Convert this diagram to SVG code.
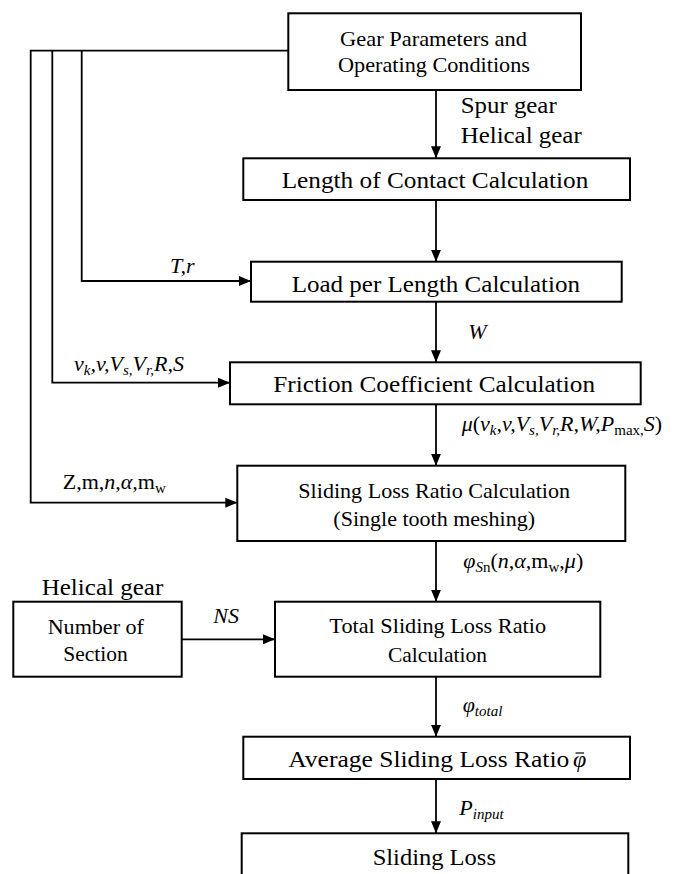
<svg xmlns="http://www.w3.org/2000/svg" width="699" height="874" viewBox="0 0 699 874" font-family="'Liberation Serif', 'DejaVu Serif', 'Times New Roman', serif">
<style>
text{font-family:'Liberation Serif','DejaVu Serif','Times New Roman',serif;fill:#000}
.box{fill:#fff;stroke:#000;stroke-width:2}
.b22{font-size:22px;text-anchor:middle}
.b24{font-size:24px;text-anchor:middle}
.lbl{font-size:24px}
.it{font-style:italic;font-size:22px}
.up{font-style:normal}
.sub{font-size:15px}
.ln{fill:none;stroke:#000;stroke-width:1.8}
</style>
<defs>
<marker id="ah" markerUnits="userSpaceOnUse" markerWidth="12" markerHeight="10" refX="12" refY="5" orient="auto">
<path d="M0,0 L12,5 L0,10 z" fill="#000"/>
</marker>
</defs>

<g id="connectors">
<path class="ln" d="M288.3,50.7 H30.7 V502.7 H237.3" marker-end="url(#ah)"/>
<path class="ln" d="M52.3,50.7 V382.7 H230" marker-end="url(#ah)"/>
<path class="ln" d="M81.7,50.7 V281 H251" marker-end="url(#ah)"/>
<path class="ln" d="M436,90 V158.3" marker-end="url(#ah)"/>
<path class="ln" d="M436,200 V261.7" marker-end="url(#ah)"/>
<path class="ln" d="M436,301.7 V362.3" marker-end="url(#ah)"/>
<path class="ln" d="M436,404.3 V465.7" marker-end="url(#ah)"/>
<path class="ln" d="M436,541 V601.7" marker-end="url(#ah)"/>
<path class="ln" d="M436,676.7 V736.7" marker-end="url(#ah)"/>
<path class="ln" d="M436,779 V833.3" marker-end="url(#ah)"/>
<path class="ln" d="M181.7,639.3 H275" marker-end="url(#ah)"/>
</g>

<g id="node-gear-parameters">
<rect class="box" x="288.3" y="13.3" width="292.7" height="76.7"/>
<text class="b22" x="433.5" y="45.7" textLength="187" lengthAdjust="spacingAndGlyphs">Gear Parameters  and</text>
<text class="b22" x="434" y="71.7" textLength="192" lengthAdjust="spacingAndGlyphs">Operating Conditions</text>
</g>

<g id="node-length-of-contact">
<rect class="box" x="243.3" y="158.3" width="386.7" height="41.7"/>
<text class="b24" x="435" y="188.3" textLength="306.6" lengthAdjust="spacingAndGlyphs">Length of Contact Calculation</text>
</g>

<g id="node-load-per-length">
<rect class="box" x="251" y="261.7" width="370.7" height="40"/>
<text class="b24" x="435.8" y="291.7" textLength="288.3" lengthAdjust="spacingAndGlyphs">Load per Length Calculation</text>
</g>

<g id="node-friction">
<rect class="box" x="230" y="362.3" width="410.7" height="42"/>
<text class="b24" x="434.2" y="392.3" textLength="321.7" lengthAdjust="spacingAndGlyphs">Friction Coefficient Calculation</text>
</g>

<g id="node-sliding-ratio">
<rect class="box" x="237.3" y="465.7" width="388" height="75.3"/>
<text class="b22" x="434.2" y="497.7" textLength="271.7" lengthAdjust="spacingAndGlyphs">Sliding Loss Ratio Calculation</text>
<text class="b22" x="434.2" y="526" textLength="201.7" lengthAdjust="spacingAndGlyphs">(Single tooth meshing)</text>
</g>

<g id="node-number-of-section">
<rect class="box" x="13.3" y="601.7" width="168.4" height="75"/>
<text class="b22" x="95.8" y="634" textLength="96.3" lengthAdjust="spacingAndGlyphs">Number of</text>
<text class="b22" x="95.5" y="660.7" textLength="64.4" lengthAdjust="spacingAndGlyphs">Section</text>
</g>

<g id="node-total-sliding">
<rect class="box" x="275" y="601.7" width="325.3" height="75"/>
<text class="b22" x="437.7" y="633.3" textLength="216.7" lengthAdjust="spacingAndGlyphs">Total Sliding Loss Ratio</text>
<text class="b22" x="437.4" y="661.7" textLength="99" lengthAdjust="spacingAndGlyphs">Calculation</text>
</g>

<g id="node-average">
<rect class="box" x="243.3" y="736.7" width="386.7" height="42.3"/>
<text class="lbl" x="288.3" y="767.3" textLength="281" lengthAdjust="spacingAndGlyphs">Average Sliding  Loss Ratio</text>
<text class="lbl" x="573" y="767.3" font-style="italic" font-size="22">φ</text>
<line x1="575.5" y1="753" x2="584" y2="753" stroke="#000" stroke-width="1.2"/>
</g>

<g id="node-sliding-loss">
<rect class="box" x="241.7" y="833.3" width="386.6" height="50"/>
<text class="b24" x="434.3" y="865" textLength="123.3" lengthAdjust="spacingAndGlyphs">Sliding Loss</text>
</g>

<g id="labels">
<text class="lbl" x="460.7" y="113.3" textLength="96" lengthAdjust="spacingAndGlyphs">Spur gear</text>
<text class="lbl" x="460.7" y="143.3" textLength="121" lengthAdjust="spacingAndGlyphs">Helical gear</text>
<text class="lbl" x="41.7" y="595" textLength="121.6" lengthAdjust="spacingAndGlyphs">Helical gear</text>
<text class="it" x="170" y="272.7">T,r</text>
<text class="it" x="468.3" y="339.3">W</text>
<text class="it" x="213.3" y="623.3">NS</text>
<text class="it" x="74" y="370.7">v<tspan class="sub" dy="4">k</tspan><tspan dy="-4">,v,V</tspan><tspan class="sub" dy="4">s,</tspan><tspan dy="-4">V</tspan><tspan class="sub" dy="4">r,</tspan><tspan dy="-4">R,S</tspan></text>
<text class="it" x="461.7" y="430.7">μ<tspan class="up">(</tspan>v<tspan class="sub" dy="4">k</tspan><tspan dy="-4">,v,V</tspan><tspan class="sub" dy="4">s,</tspan><tspan dy="-4">V</tspan><tspan class="sub" dy="4">r,</tspan><tspan dy="-4">R,W,P</tspan><tspan class="sub up" dy="4">max,</tspan><tspan dy="-4">S</tspan><tspan class="up">)</tspan></text>
<text class="it" x="62.7" y="489.3"><tspan class="up">Z,m,</tspan>n,α,<tspan class="up">m</tspan><tspan class="sub up" dy="4">w</tspan></text>
<text class="it" x="463.3" y="568.3">φ<tspan class="sub" dy="4">S</tspan><tspan class="sub up">n</tspan><tspan class="up" dy="-4">(</tspan>n,α,<tspan class="up">m</tspan><tspan class="sub up" dy="4">w</tspan><tspan class="up" dy="-4">,</tspan>μ<tspan class="up">)</tspan></text>
<text class="it" x="462.7" y="711.7">φ<tspan class="sub" dy="4">total</tspan></text>
<text class="it" x="459.3" y="815">P<tspan class="sub" dy="4">input</tspan></text>
</g>
</svg>
